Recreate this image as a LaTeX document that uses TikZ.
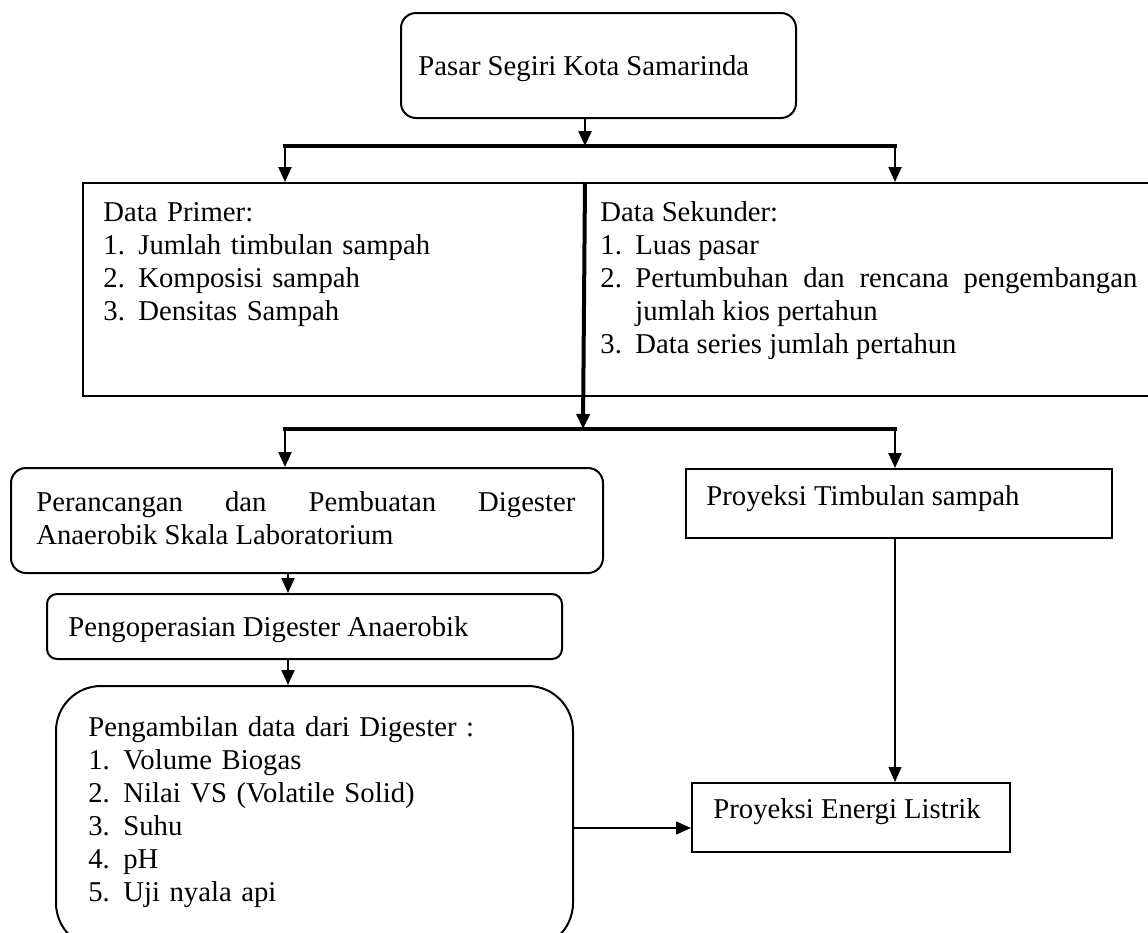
\documentclass[tikz,border=0pt]{standalone}
\usepackage{fontspec}
\setmainfont{Liberation Serif}
\usetikzlibrary{arrows.meta}

\newcommand{\butir}[2]{\par\hangindent=17.5pt\hangafter=1\noindent\makebox[17.5pt][l]{#1.}#2}

\begin{document}
\begin{tikzpicture}[x=0.5pt,y=-0.5pt,
        font=\fontsize{14.35}{16.5}\selectfont,
        kotak/.style={draw, line width=1pt, inner sep=0pt, anchor=north west},
        tulisan/.style={inner sep=0pt, anchor=north west,
            execute at begin node={\setlength{\parindent}{0pt}\hyphenpenalty=10000\tolerance=10000}},
        panah/.style={-{Triangle[length=7.5pt,width=6.5pt]}},
        tebal/.style={line width=2pt, line cap=rect},
        sedang/.style={line width=1.2pt},
        tipis/.style={line width=0.6pt}]
        % batas gambar
        \useasboundingbox (0,0) rectangle (1148,933);
        \clip (0,0) rectangle (1148,933);

        % kotak-kotak
        \node[kotak, rounded corners=7.5pt, minimum width=197.5pt, minimum height=52.5pt] (pasar) at (400,12) {};
        \node[kotak, minimum width=250.5pt, minimum height=106.5pt] (primer) at (82,182) {};
        \node[kotak, minimum width=285.5pt, minimum height=106.5pt] (sekunder) at (583,182) {};
        \node[kotak, rounded corners=7.5pt, minimum width=296pt, minimum height=52.5pt] (rancang) at (10,467) {};
        \node[kotak, rounded corners=5pt, minimum width=257.5pt, minimum height=32.5pt] (operasi) at (46,593) {};
        \node[kotak, rounded corners=22.5pt, minimum width=258.5pt, minimum height=131pt] (ambil) at (55,685) {};
        \node[kotak, minimum width=213pt, minimum height=34.5pt] (timbulan) at (685,468) {};
        \node[kotak, minimum width=159pt, minimum height=34.5pt] (energi) at (691,782) {};

        % teks
        \node[tulisan] (pasarT) at ([shift={(18,40)}]pasar.north west) {\strut Pasar Segiri Kota Samarinda};
        \node[tulisan, text width=220pt, align=left] (primerT) at ([shift={(21,16)}]primer.north west)
            {\strut Data Primer:
             \butir{1}{Jumlah timbulan sampah}
             \butir{2}{Komposisi sampah}
             \butir{3}{Densitas Sampah}};
        \node[tulisan, text width=268.5pt, align=justify] (sekunderT) at ([shift={(17,16)}]sekunder.north west)
            {\strut Data Sekunder:
             \butir{1}{Luas pasar}
             \butir{2}{Pertumbuhan dan rencana pengembangan jumlah kios pertahun}
             \butir{3}{Data series jumlah pertahun}};
        \node[tulisan, text width=269.5pt, align=justify] (rancangT) at ([shift={(26,21)}]rancang.north west)
            {\strut Perancangan dan Pembuatan Digester Anaerobik Skala Laboratorium};
        \node[tulisan] (operasiT) at ([shift={(22,20)}]operasi.north west) {\strut Pengoperasian Digester Anaerobik};
        \node[tulisan, text width=230pt, align=left] (ambilT) at ([shift={(33,28)}]ambil.north west)
            {\strut Pengambilan data dari Digester :
             \butir{1}{Volume Biogas}
             \butir{2}{Nilai VS (Volatile Solid)}
             \butir{3}{Suhu}
             \butir{4}{pH}
             \butir{5}{Uji nyala api}};
        \node[tulisan] (timbulanT) at ([shift={(21,14)}]timbulan.north west) {\strut Proyeksi Timbulan sampah};
        \node[tulisan] (energiT) at ([shift={(22,13)}]energi.north west) {\strut Proyeksi Energi Listrik};

        % cabang
        \coordinate (cab1) at (585,146);
        \coordinate (k1) at (285,146);
        \coordinate (n1) at (895,146);
        \coordinate (cab2) at (583,429);
        \coordinate (k2) at (285,429);
        \coordinate (n2) at (895,429);
        \coordinate (tengah) at (288,0);
        \coordinate (lv) at (0,828);

        \draw[sedang, panah] (pasar.south -| cab1) -- (cab1);
        \draw[tebal] (k1) -- (n1);
        \draw[sedang, panah] (k1) -- (k1 |- primer.north);
        \draw[sedang, panah] (n1) -- (n1 |- sekunder.north);

        \draw[tebal, line cap=butt, panah] (primer.north east) -- (cab2);
        \draw[tebal] (k2) -- (n2);
        \draw[sedang, panah] (k2) -- (k2 |- rancang.north);
        \draw[sedang, panah] (n2) -- (n2 |- timbulan.north);

        \draw[sedang, panah] (rancang.south -| tengah) -- (operasi.north -| tengah);
        \draw[sedang, panah] (operasi.south -| tengah) -- (ambil.north -| tengah);
        \draw[tipis, panah] (timbulan.south -| n2) -- (energi.north -| n2);
        \draw[tipis, panah] (ambil.east |- lv) -- (energi.west |- lv);
    \end{tikzpicture}
\end{document}
